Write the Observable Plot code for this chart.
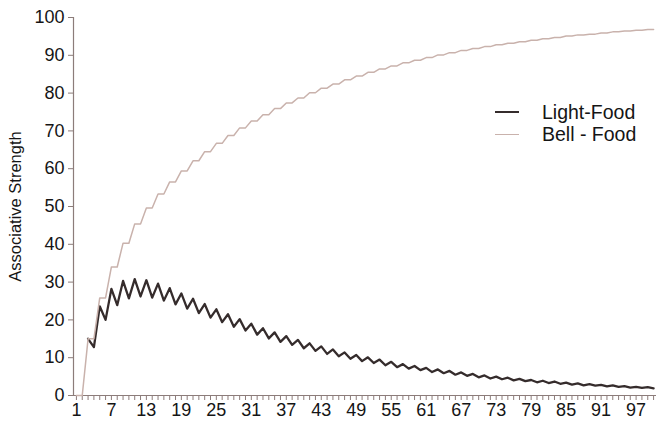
<!DOCTYPE html>
<html><head><meta charset="utf-8">
<script src="https://cdn.jsdelivr.net/npm/d3@7"></script>
<script src="https://cdn.jsdelivr.net/npm/@observablehq/plot@0.6"></script>
<style>
body{margin:0;background:#fff;}
#chart{position:relative;width:656px;height:429px;font-family:"Liberation Sans",Arial,sans-serif;}
.legend{position:absolute;left:495px;top:101px;font-size:19.5px;color:#151515;line-height:22px;}
.legend .row{display:flex;align-items:center;height:22px;}
.legend .sw{width:24px;margin-right:23px;}
</style></head><body><div id="chart"></div>
<script>
const trials = d3.range(1, 101);
const lightFood = [
  null, null, 15.0, 12.8, 23.6, 20.0, 28.2, 23.9, 30.3, 25.7,
  30.8, 26.2, 30.5, 25.9, 29.6, 25.1, 28.4, 24.1, 27.0, 23.0,
  25.6, 21.8, 24.2, 20.6, 22.8, 19.4, 21.5, 18.2, 20.2, 17.2,
  19.0, 16.1, 17.8, 15.1, 16.7, 14.2, 15.7, 13.4, 14.7, 12.5,
  13.8, 11.8, 13.0, 11.0, 12.2, 10.4, 11.4, 9.7, 10.7, 9.1,
  10.1, 8.6, 9.5, 8.0, 8.9, 7.5, 8.3, 7.1, 7.8, 6.7,
  7.3, 6.2, 6.9, 5.9, 6.5, 5.5, 6.1, 5.2, 5.7, 4.8,
  5.3, 4.5, 5.0, 4.3, 4.7, 4.0, 4.4, 3.8, 4.1, 3.5,
  3.9, 3.3, 3.7, 3.1, 3.4, 2.9, 3.2, 2.7, 3.0, 2.6,
  2.8, 2.4, 2.7, 2.3, 2.5, 2.1, 2.3, 2.0, 2.2, 1.9
];
const bellFood = [
  0, 0, 15.0, 15.0, 25.8, 25.8, 34.0, 34.0, 40.3, 40.3,
  45.4, 45.4, 49.6, 49.6, 53.3, 53.3, 56.5, 56.5, 59.4, 59.4,
  62.1, 62.1, 64.5, 64.5, 66.7, 66.7, 68.8, 68.8, 70.8, 70.8,
  72.6, 72.6, 74.3, 74.3, 75.9, 75.9, 77.4, 77.4, 78.7, 78.7,
  80.1, 80.1, 81.3, 81.3, 82.4, 82.4, 83.5, 83.5, 84.5, 84.5,
  85.5, 85.5, 86.4, 86.4, 87.2, 87.2, 88.0, 88.0, 88.7, 88.7,
  89.4, 89.4, 90.1, 90.1, 90.7, 90.7, 91.3, 91.3, 91.8, 91.8,
  92.3, 92.3, 92.8, 92.8, 93.2, 93.2, 93.6, 93.6, 94.0, 94.0,
  94.4, 94.4, 94.7, 94.7, 95.1, 95.1, 95.4, 95.4, 95.6, 95.6,
  95.9, 95.9, 96.2, 96.2, 96.4, 96.4, 96.6, 96.6, 96.8, 96.8
];
const seriesNames = ["Light-Food", "Bell - Food"];
const seriesColors = ["#352c2c", "#c9b2ac"];
const seriesWidths = [2.3, 1.5];
const yTicks = d3.range(0, 101, 10);
const xTickLabels = d3.range(1, 101, 6);
const yLabel = "Associative Strength";
const axisColor = "#8c7c7a";
const textColor = "#151515";

const rows = trials.map((t, i) => ({trial: t, light: lightFood[i], bell: bellFood[i]}));

const plot = Plot.plot({
  width: 656, height: 429,
  marginLeft: 73, marginRight: 0, marginTop: 17, marginBottom: 34,
  style: {fontFamily: '"Liberation Sans", Arial, sans-serif', background: "#fff", color: textColor, fontSize: "18px"},
  x: {domain: [0.5, 100.5]},
  y: {domain: [0, 100]},
  marks: [
    Plot.axisY({ticks: yTicks, tickSize: 5, tickPadding: 4, stroke: axisColor, fill: textColor,
      label: yLabel, labelAnchor: "center", labelOffset: 64, labelArrow: false}),
    Plot.axisX({ticks: trials, tickSize: 5, tickFormat: () => "", stroke: axisColor, label: null}),
    Plot.axisX({ticks: xTickLabels, tickSize: 0, tickPadding: 8, fill: textColor, label: null}),
    Plot.ruleX([0.5], {stroke: axisColor, strokeWidth: 1.2}),
    Plot.ruleY([0], {stroke: axisColor, strokeWidth: 1.2}),
    Plot.line(rows, {x: "trial", y: "light", stroke: seriesColors[0], strokeWidth: seriesWidths[0], strokeLinejoin: "round"}),
    Plot.line(rows, {x: "trial", y: "bell", stroke: seriesColors[1], strokeWidth: seriesWidths[1]})
  ]
});
const chart = document.getElementById("chart");
chart.appendChild(plot);
plot.querySelectorAll('[aria-label="y-axis tick label"], [aria-label="x-axis tick label"]').forEach(e => e.setAttribute("font-size", "18"));
plot.querySelectorAll('[aria-label="y-axis label"]').forEach(e => e.setAttribute("font-size", "16.5"));

const legend = document.createElement("div");
legend.className = "legend";
seriesNames.forEach((name, i) => {
  const row = document.createElement("div");
  row.className = "row";
  const sw = document.createElement("div");
  sw.className = "sw";
  sw.style.borderTop = `${Math.max(seriesWidths[i], 1.5)}px solid ${seriesColors[i]}`;
  const tx = document.createElement("span");
  tx.textContent = name;
  row.appendChild(sw); row.appendChild(tx);
  legend.appendChild(row);
});
chart.appendChild(legend);
</script>
</body></html>
